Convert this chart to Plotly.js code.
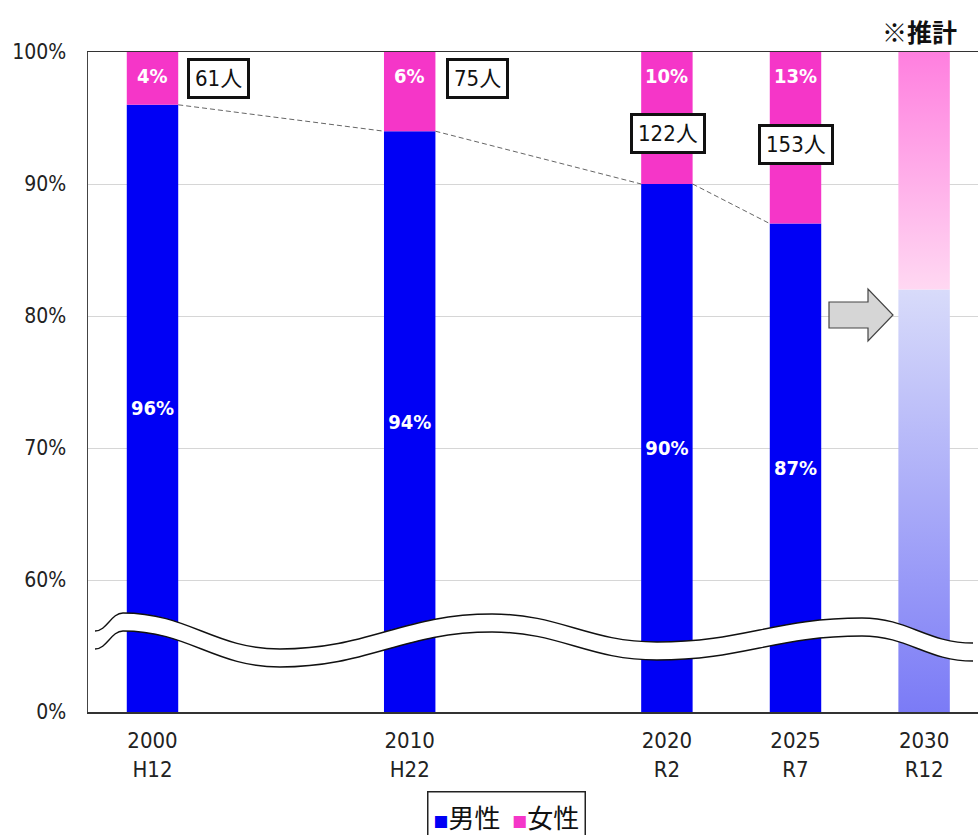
<!DOCTYPE html>
<html>
<head>
<meta charset="utf-8">
<script src="https://cdn.plot.ly/plotly-3.0.1.min.js"></script>
<style>
  html, body { margin: 0; padding: 0; background: #fff; }
  #chart { width: 978px; height: 835px; }
</style>
</head>
<body>
<div id="chart"></div>
<script>
// ---- data ----
const years = [2000, 2010, 2020, 2025];
const malePct = [96, 94, 90, 87];
const femalePct = [4, 6, 10, 13];
const womenCount = [61, 75, 122, 153];

const tickYears = [2000, 2010, 2020, 2025, 2030];
const tickEra = ['H12', 'H22', 'R2', 'R7', 'R12'];

const projYear = 2030;
const projMale = 82;
const projFemale = 18;

const yTickPct = [0, 60, 70, 80, 90, 100];

// ---- styling ----
const NARROW = '"DejaVu Sans Condensed", "Liberation Sans Narrow", "Noto Sans CJK JP", sans-serif';
const CJK = '"Noto Sans CJK JP", "DejaVu Sans Condensed", sans-serif';
const BLUE = '#0000f5';
const PINK = '#f536c8';
const BAR_W = 2;

// the value axis is broken: 0%..60% is squeezed into one 10% step
function axisPos(v) { return v >= 60 ? v : 50 + v * (10 / 60); }

// pixel helpers for the decorative break band and arrow
const PX0 = 152.5, PXY = 25.72, PY0 = 712, PYV = 13.2;
const dx = px => 2000 + (px - PX0) / PXY;
const dy = py => 50 + (PY0 - py) / PYV;

const traces = [];

// male bars (lower part)
traces.push({
  type: 'bar', name: '男性', x: years,
  base: malePct.map(() => axisPos(0)),
  y: malePct.map(v => axisPos(v) - axisPos(0)),
  width: BAR_W, marker: { color: BLUE },
  text: malePct.map(v => v + '%'), textposition: 'inside', insidetextanchor: 'middle',
  textangle: 0,
  textfont: { family: NARROW, size: 20, color: '#ffffff', weight: 'bold' },
  constraintext: 'none', hoverinfo: 'skip', showlegend: false
});

// female bars stacked on top
traces.push({
  type: 'bar', name: '女性', x: years,
  base: malePct.map(v => axisPos(v)),
  y: femalePct.map((v, i) => axisPos(malePct[i] + v) - axisPos(malePct[i])),
  width: BAR_W, marker: { color: PINK },
  hoverinfo: 'skip', showlegend: false
});

// projected 2030 bar, drawn with vertical gradients
function gradRect(x, b, t, c0, c1) {
  const x0 = x - BAR_W / 2, x1 = x + BAR_W / 2;
  return {
    type: 'scatter', mode: 'lines', line: { width: 0 },
    x: [x0, x1, x1, x0, x0], y: [b, b, t, t, b],
    fill: 'toself',
    fillgradient: { type: 'vertical', colorscale: [[0, c0], [1, c1]] },
    hoverinfo: 'skip', showlegend: false
  };
}
traces.push(gradRect(projYear, axisPos(0), axisPos(projMale), '#7b7bf6', '#d8dbfa'));
traces.push(gradRect(projYear, axisPos(projMale), axisPos(projMale + projFemale), '#ffd8f2', '#ff7fdf'));

// series lines joining the tops of the male bars
const slX = [], slY = [];
for (let i = 0; i < years.length - 1; i++) {
  slX.push(years[i] + BAR_W / 2, years[i + 1] - BAR_W / 2, null);
  slY.push(axisPos(malePct[i]), axisPos(malePct[i + 1]), null);
}
traces.push({
  type: 'scatter', mode: 'lines', x: slX, y: slY,
  line: { color: '#666666', width: 1, dash: '5px,3px' },
  hoverinfo: 'skip', showlegend: false, connectgaps: false
});

// ---- decorations ----
function bez(pts) {
  // smooth curve through extrema with horizontal tangents
  let s = '';
  for (let i = 1; i < pts.length; i++) {
    const [x0, y0] = pts[i - 1], [x1, y1] = pts[i];
    const d = (x1 - x0) * 0.42;
    s += ` C${dx(x0 + d)},${dy(y0)} ${dx(x1 - d)},${dy(y1)} ${dx(x1)},${dy(y1)}`;
  }
  return s;
}
const waveTop = [[95, 631], [123, 613], [280, 649], [492, 614], [657, 642], [862, 618], [973, 643]];
const waveBot = waveTop.map(([x, y]) => [x, y + 18]);
const topPath = `M${dx(waveTop[0][0])},${dy(waveTop[0][1])}` + bez(waveTop);
const botPath = `M${dx(waveBot[0][0])},${dy(waveBot[0][1])}` + bez(waveBot);
const botRev = waveBot.slice().reverse();
const bandPath = topPath + ` L${dx(botRev[0][0])},${dy(botRev[0][1])}` + bez(botRev) + ' Z';

const arrowPx = [[829, 302], [868, 302], [868, 289], [893, 315], [868, 341], [868, 328], [829, 328]];
const arrowPath = 'M' + arrowPx.map(([x, y]) => `${dx(x)},${dy(y)}`).join(' L') + ' Z';

const shapes = [
  { type: 'path', xref: 'x', yref: 'y', path: bandPath, fillcolor: '#ffffff', line: { width: 0 }, layer: 'above' },
  { type: 'path', xref: 'x', yref: 'y', path: topPath, line: { color: '#111', width: 1.4 }, layer: 'above' },
  { type: 'path', xref: 'x', yref: 'y', path: botPath, line: { color: '#111', width: 1.4 }, layer: 'above' },
  { type: 'path', xref: 'x', yref: 'y', path: arrowPath, fillcolor: '#d6d6d6', line: { color: '#444', width: 1.2 }, layer: 'above' }
];

const annotations = [];

// female share labels near the top of each bar
femalePct.forEach((v, i) => annotations.push({
  xref: 'x', yref: 'y', x: years[i], y: axisPos(malePct[i] + v), yshift: -24,
  text: '<b>' + v + '%</b>', showarrow: false,
  font: { family: NARROW, size: 20, color: '#ffffff' },
  xanchor: 'center', yanchor: 'middle'
}));

// boxed head-count labels
const countPos = [[2002.55, 98.0], [2012.62, 98.0], [2020.04, 93.85], [2025.02, 93.0]];
womenCount.forEach((c, i) => annotations.push({
  xref: 'x', yref: 'y', x: countPos[i][0], y: countPos[i][1],
  text: c + '人', showarrow: false,
  font: { family: NARROW, size: 22, color: '#111' },
  bgcolor: '#ffffff', bordercolor: '#111', borderwidth: 3, borderpad: 5,
  xanchor: 'center', yanchor: 'middle'
}));

annotations.push({
  xref: 'paper', yref: 'paper', x: 0.934, y: 1.032, showarrow: false,
  text: '<b>※推計</b>', font: { family: CJK, size: 25, color: '#111' },
  xanchor: 'center', yanchor: 'middle'
});

// legend box
annotations.push({
  xref: 'paper', yref: 'paper', x: 0.4705, y: -0.158, showarrow: false,
  text: `<span style="color:${BLUE};font-size:15px">■</span>男性  <span style="color:${PINK};font-size:15px">■</span>女性`,
  font: { family: CJK, size: 26, color: '#111' },
  bordercolor: '#222', borderwidth: 1.5, borderpad: 5,
  xanchor: 'center', yanchor: 'middle'
});

const layout = {
  width: 978, height: 835,
  margin: { l: 88, r: 0, t: 52, b: 123 },
  paper_bgcolor: '#ffffff', plot_bgcolor: '#ffffff',
  barmode: 'overlay', showlegend: false,
  xaxis: {
    range: [dx(88), dx(978)],
    tickmode: 'array', tickvals: tickYears,
    ticktext: tickYears.map((y, i) => `${y}<br>${tickEra[i]}`),
    tickfont: { family: NARROW, size: 22, color: '#222' },
    ticks: '', ticklabelstandoff: 8,
    showgrid: false, zeroline: false,
    showline: true, linecolor: '#333', linewidth: 1.5, mirror: true
  },
  yaxis: {
    range: [50, 100],
    tickmode: 'array', tickvals: yTickPct.map(axisPos),
    ticktext: yTickPct.map(v => v + '%'),
    tickfont: { family: NARROW, size: 21, color: '#222' },
    ticks: '', ticklabelstandoff: 16,
    showgrid: true, gridcolor: '#d6d6d6', gridwidth: 1, zeroline: false,
    showline: true, linecolor: '#444', linewidth: 1.5
  },
  shapes: shapes,
  annotations: annotations
};

Plotly.newPlot('chart', traces, layout, { displayModeBar: false, staticPlot: true });
</script>
</body>
</html>
